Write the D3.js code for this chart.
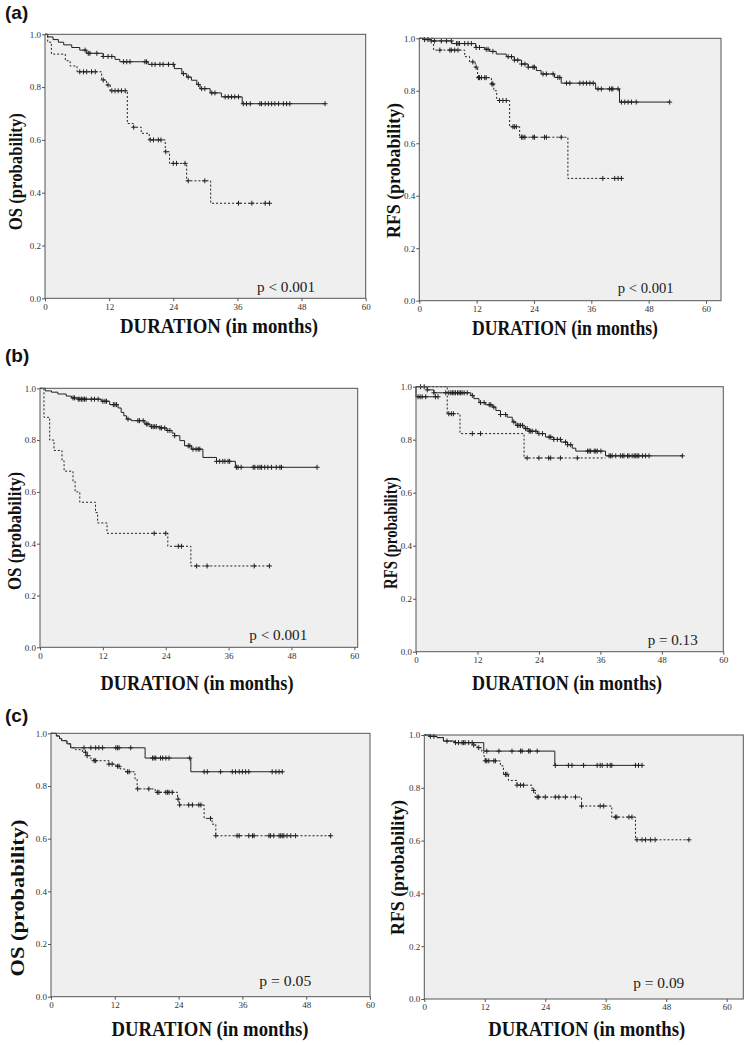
<!DOCTYPE html>
<html><head><meta charset="utf-8">
<script src="https://cdn.jsdelivr.net/npm/d3@7"></script>
<style>body{margin:0;background:#fff}svg{display:block}</style>
</head><body>
<svg id="chart" width="750" height="1045"></svg>
<script>
// ---------- axis ticks & labels ----------
const xTicks = [0, 12, 24, 36, 48, 60];
const yTicks = [0, 0.2, 0.4, 0.6, 0.8, 1.0];
const panelLetters = ["(a)", "(b)", "(c)"];
const xTitle = "DURATION (in months)";
const yTitles = ["OS (probability)", "RFS (probability)", "OS (probability)", "RFS (probability)", "OS (probability)", "RFS (probability)"];
const pTexts = ["p < 0.001", "p < 0.001", "p < 0.001", "p = 0.13", "p = 0.05", "p = 0.09"];

// ---------- (a) OS ----------
const aOsSolidT = [0.5, 1.5, 2.5, 3.5, 5.0, 6.5, 7.8, 10.9, 13.1, 14.0, 19.3, 24.2, 25.6, 26.5, 27.4, 28.4, 29.0, 30.9, 33.0, 36.9];
const aOsSolidS = [0.99, 0.98, 0.97, 0.96, 0.95, 0.94, 0.928, 0.916, 0.905, 0.896, 0.886, 0.87, 0.851, 0.838, 0.826, 0.81, 0.794, 0.778, 0.763, 0.737];
const aOsSolidC = [7.5, 8.1, 8.4, 9.7, 10.9, 11.8, 12.5, 14.7, 15.3, 15.9, 18.7, 19.0, 20.0, 20.6, 21.5, 22.1, 23.1, 24.0, 25.9, 26.8, 28.7, 29.3, 29.9, 31.2, 31.8, 33.7, 34.3, 34.9, 35.5, 36.2, 37.1, 37.7, 38.4, 40.2, 40.5, 41.2, 41.8, 42.4, 43.0, 43.7, 44.6, 45.2, 45.8, 52.4];
const aOsDashT = [0.5, 1.2, 3.8, 4.7, 6.0, 10.6, 11.5, 12.2, 15.4, 16.5, 18.0, 19.5, 22.5, 23.3, 26.5, 31.0];
const aOsDashS = [0.97, 0.925, 0.90, 0.88, 0.858, 0.827, 0.808, 0.786, 0.662, 0.648, 0.625, 0.60, 0.555, 0.511, 0.445, 0.36];
const aOsDashC = [6.5, 7.2, 7.8, 8.7, 9.4, 10.9, 11.8, 12.5, 13.1, 13.7, 14.3, 15.0, 16.6, 19.7, 20.3, 21.2, 21.7, 22.6, 24.0, 24.6, 26.2, 26.8, 29.9, 36.2, 38.7, 41.2, 42.0];

// ---------- (a) RFS ----------
const aRfsSolidT = [1.0, 2.5, 6.8, 11.8, 13.7, 14.7, 16.1, 18.2, 19.9, 21.4, 22.8, 24.5, 25.5, 28.3, 29.7, 36.9, 41.9];
const aRfsSolidS = [0.995, 0.99, 0.98, 0.965, 0.958, 0.95, 0.94, 0.93, 0.917, 0.902, 0.89, 0.877, 0.864, 0.851, 0.829, 0.807, 0.757];
const aRfsSolidC = [1.1, 1.8, 2.5, 3.2, 4.6, 5.7, 6.7, 7.8, 8.1, 8.4, 9.5, 10.2, 10.9, 11.9, 12.6, 14.0, 14.4, 15.4, 18.6, 19.3, 19.9, 20.6, 21.4, 22.1, 22.8, 23.8, 24.1, 25.9, 26.6, 28.0, 29.0, 29.4, 30.8, 31.5, 33.6, 34.3, 35.0, 35.7, 36.4, 37.4, 38.1, 39.8, 40.2, 40.5, 41.6, 42.3, 43.0, 43.7, 44.4, 45.4, 52.4];
const aRfsDashT = [3.0, 9.5, 10.5, 11.7, 12.2, 15.1, 15.6, 16.2, 18.9, 21.0, 31.1];
const aRfsDashS = [0.955, 0.93, 0.91, 0.89, 0.85, 0.826, 0.80, 0.763, 0.663, 0.623, 0.466];
const aRfsDashC = [4.3, 6.4, 6.7, 7.4, 8.1, 11.2, 11.9, 12.4, 12.6, 13.0, 13.7, 14.0, 15.2, 15.4, 16.8, 17.5, 18.2, 19.6, 19.9, 20.3, 21.4, 21.7, 22.1, 23.8, 24.1, 26.2, 26.6, 29.7, 38.4, 40.9, 41.6, 42.3];

// ---------- (b) OS ----------
const bOsSolidT = [1.0, 2.2, 3.4, 5.0, 6.0, 7.3, 11.7, 13.3, 14.9, 15.5, 16.0, 16.5, 17.4, 20.0, 21.0, 22.9, 24.1, 25.2, 25.7, 26.7, 27.6, 28.9, 31.1, 33.7, 37.3];
const bOsSolidS = [0.99, 0.985, 0.978, 0.97, 0.963, 0.958, 0.95, 0.937, 0.924, 0.907, 0.894, 0.881, 0.875, 0.862, 0.852, 0.847, 0.837, 0.827, 0.817, 0.798, 0.778, 0.765, 0.733, 0.718, 0.695];
const bOsSolidC = [6.3, 6.6, 7.3, 7.6, 7.9, 8.2, 8.5, 8.8, 9.8, 10.4, 11.1, 12.0, 12.4, 12.7, 14.0, 14.3, 14.6, 16.8, 18.7, 19.0, 19.7, 20.3, 20.6, 21.3, 21.6, 21.9, 22.2, 22.9, 23.2, 23.8, 24.4, 24.8, 25.7, 28.3, 28.6, 29.2, 29.8, 30.2, 30.5, 33.7, 34.3, 34.9, 35.3, 35.9, 36.2, 37.5, 37.8, 38.4, 40.7, 41.0, 41.6, 42.0, 42.3, 42.9, 43.5, 44.2, 45.1, 45.8, 46.1, 52.9];
const bOsDashT = [0.76, 1.85, 2.67, 4.2, 4.6, 6.3, 6.7, 7.6, 10.6, 11.0, 12.8, 24.4, 28.8];
const bOsDashS = [0.888, 0.80, 0.76, 0.72, 0.68, 0.64, 0.60, 0.56, 0.52, 0.48, 0.44, 0.39, 0.314];
const bOsDashC = [21.8, 24.0, 26.4, 27.0, 29.9, 31.9, 40.9, 43.8];

// ---------- (b) RFS ----------
const bRfsSolidT = [2.2, 3.5, 10.7, 11.3, 12.3, 13.6, 14.9, 15.6, 16.5, 17.8, 18.8, 19.5, 21.1, 22.1, 23.7, 25.3, 26.9, 28.3, 29.6, 30.5, 31.2, 37.0];
const bRfsSolidS = [0.988, 0.977, 0.967, 0.955, 0.94, 0.932, 0.923, 0.91, 0.895, 0.885, 0.867, 0.854, 0.842, 0.832, 0.823, 0.81, 0.801, 0.791, 0.781, 0.768, 0.757, 0.739];
const bRfsSolidC = [0.9, 1.6, 2.2, 3.5, 5.8, 6.4, 6.8, 7.1, 7.4, 7.7, 8.1, 8.4, 8.7, 9.0, 9.4, 10.0, 11.0, 12.6, 13.3, 14.3, 14.6, 15.2, 16.5, 17.5, 19.1, 19.8, 20.1, 20.4, 20.8, 21.4, 21.7, 22.1, 22.4, 22.7, 23.4, 24.0, 24.7, 26.0, 26.3, 26.9, 27.6, 28.2, 29.2, 29.6, 30.2, 33.5, 33.8, 34.1, 34.8, 35.1, 35.4, 36.1, 37.7, 38.0, 38.3, 39.0, 39.9, 40.3, 40.6, 41.3, 41.6, 42.2, 42.6, 42.9, 43.2, 43.5, 44.2, 44.8, 45.5, 52.0];
const bRfsDashT = [6.1, 8.6, 21.1];
const bRfsDashS = [0.898, 0.823, 0.731];
const bRfsDashC = [6.4, 6.9, 7.3, 11.0, 12.6, 21.7, 24.0, 25.9, 26.3, 28.2, 31.5];
const bRfsDashEnd = [37.0];
const bRfsEarlyT = [0.0];
const bRfsEarlyS = [0.962];
const bRfsEarlyC = [0.4, 0.8, 1.2, 1.9, 3.8, 4.3];

// ---------- (c) OS ----------
const cOsSolidT = [1.0, 1.6, 2.0, 3.0, 3.7, 17.7, 26.3];
const cOsSolidS = [0.99, 0.98, 0.972, 0.96, 0.945, 0.906, 0.854];
const cOsSolidC = [6.2, 7.5, 8.4, 9.0, 9.7, 12.2, 12.5, 12.8, 15.0, 19.1, 19.4, 19.7, 20.6, 21.0, 21.6, 22.2, 26.1, 28.8, 29.4, 31.9, 34.1, 34.7, 35.4, 36.0, 36.6, 37.2, 41.6, 42.3, 42.9, 43.5];
const cOsDashT = [1.0, 1.6, 2.0, 3.0, 3.7, 4.6, 5.9, 6.8, 7.5, 8.1, 10.9, 12.2, 13.1, 14.0, 15.8, 16.2, 19.6, 23.8, 24.1, 28.8, 30.3, 31.0];
const cOsDashS = [0.99, 0.98, 0.972, 0.96, 0.945, 0.938, 0.928, 0.915, 0.902, 0.896, 0.883, 0.875, 0.864, 0.854, 0.826, 0.789, 0.776, 0.75, 0.728, 0.677, 0.655, 0.611];
const cOsDashC = [6.5, 6.8, 8.1, 8.4, 10.9, 11.5, 12.5, 12.8, 14.4, 14.7, 16.3, 18.4, 20.0, 20.3, 21.6, 21.9, 22.2, 22.8, 23.9, 24.2, 25.9, 26.6, 27.8, 28.2, 30.0, 31.0, 35.0, 35.4, 37.2, 37.9, 38.2, 41.0, 41.3, 41.9, 42.9, 43.2, 43.5, 43.8, 44.4, 45.1, 46.0, 52.6];

// ---------- (c) RFS ----------
const cRfsSolidT = [1.0, 2.5, 3.8, 6.0, 11.8, 25.9];
const cRfsSolidS = [0.995, 0.99, 0.977, 0.971, 0.939, 0.885];
const cRfsSolidC = [1.2, 1.9, 4.5, 6.2, 6.8, 7.5, 7.8, 8.1, 8.8, 9.5, 12.4, 14.8, 17.4, 19.1, 19.4, 20.7, 21.0, 22.4, 26.0, 28.6, 29.3, 31.6, 34.3, 34.9, 35.3, 36.3, 36.9, 37.2, 41.9, 42.5, 43.2];
const cRfsDashT = [1.0, 2.5, 3.8, 6.0, 9.8, 10.5, 11.4, 11.8, 12.1, 15.1, 15.7, 16.7, 18.4, 21.4, 22.0, 31.2, 37.2, 41.9];
const cRfsDashS = [0.995, 0.99, 0.977, 0.971, 0.962, 0.952, 0.937, 0.92, 0.902, 0.883, 0.851, 0.828, 0.81, 0.79, 0.765, 0.731, 0.689, 0.603];
const cRfsDashC = [9.8, 10.8, 12.1, 12.4, 12.8, 13.8, 14.1, 16.1, 16.4, 18.4, 19.1, 19.7, 21.7, 22.4, 22.7, 24.0, 26.0, 26.7, 28.0, 30.0, 31.2, 34.9, 35.6, 37.9, 38.2, 40.6, 41.2, 42.2, 43.2, 43.9, 44.9, 45.8, 52.5];

// ---------- layout (pixels) ----------
const layouts = [
  {left: 45, top: 34.3, right: 365.7, bottom: 298.3, x60: 365.7,
   xl: [219, 333, 198], yl: [22, 171.7, 117], p: [257, 291.7, 58]},
  {left: 419.3, top: 38.3, right: 721, bottom: 300.7, x60: 706,
   xl: [565, 335, 186], yl: [400, 170.5, 135], p: [617.7, 293.3, 56]},
  {left: 40, top: 388.3, right: 357.7, bottom: 647.3, x60: 354.3,
   xl: [197, 690, 193], yl: [20.5, 531, 118], p: [249.3, 640, 58]},
  {left: 416, top: 386.7, right: 723.3, bottom: 651.7, x60: 723.3,
   xl: [567, 690, 190], yl: [397, 533, 112], p: [647.7, 645, 50]},
  {left: 51, top: 733.3, right: 370, bottom: 996.7, x60: 370,
   xl: [210, 1036, 197], yl: [24, 898, 157], p: [259.3, 986, 52]},
  {left: 424.3, top: 735, right: 743.3, bottom: 999, x60: 726.7,
   xl: [586.7, 1036, 197], yl: [404, 867.5, 135], p: [633.3, 988.3, 51]}
];
const letterPos = [[5, 19], [5, 362], [5, 722]];

const panelCurves = [
  [{T: aOsSolidT, S: aOsSolidS, C: aOsSolidC, dash: false}, {T: aOsDashT, S: aOsDashS, C: aOsDashC, dash: true}],
  [{T: aRfsSolidT, S: aRfsSolidS, C: aRfsSolidC, dash: false}, {T: aRfsDashT, S: aRfsDashS, C: aRfsDashC, dash: true}],
  [{T: bOsSolidT, S: bOsSolidS, C: bOsSolidC, dash: false}, {T: bOsDashT, S: bOsDashS, C: bOsDashC, dash: true}],
  [{T: bRfsSolidT, S: bRfsSolidS, C: bRfsSolidC, dash: false}, {T: bRfsDashT, S: bRfsDashS, C: bRfsDashC, E: bRfsDashEnd, dash: true},
   {T: bRfsEarlyT, S: bRfsEarlyS, C: bRfsEarlyC, dash: false}],
  [{T: cOsSolidT, S: cOsSolidS, C: cOsSolidC, dash: false}, {T: cOsDashT, S: cOsDashS, C: cOsDashC, dash: true}],
  [{T: cRfsSolidT, S: cRfsSolidS, C: cRfsSolidC, dash: false}, {T: cRfsDashT, S: cRfsDashS, C: cRfsDashC, dash: true}]
];

const svg = d3.select("#chart");
const serif = "'Liberation Serif','Times New Roman',serif";

panelLetters.forEach((t, i) => {
  svg.append("text").attr("x", letterPos[i][0]).attr("y", letterPos[i][1])
    .attr("font-family", "'Liberation Sans',Arial,sans-serif").attr("font-weight", "bold")
    .attr("font-size", 19).attr("fill", "#111").text(t);
});

function survAt(c, t) {
  let s = 1;
  for (let i = 0; i < c.T.length; i++) if (c.T[i] <= t) s = c.S[i];
  return s;
}

layouts.forEach((L, i) => {
  const xMax = 60 * (L.right - L.left) / (L.x60 - L.left);
  const x = d3.scaleLinear().domain([0, xMax]).range([L.left, L.right]);
  const y = d3.scaleLinear().domain([0, 1]).range([L.bottom, L.top]);
  const g = svg.append("g");

  g.append("rect").attr("x", L.left).attr("y", L.top)
    .attr("width", L.right - L.left).attr("height", L.bottom - L.top)
    .attr("fill", "#efefef");

  const xa = g.append("g").attr("transform", `translate(0,${L.bottom})`)
    .call(d3.axisBottom(x).tickValues(xTicks).tickSize(3).tickPadding(2).tickFormat(d3.format("d")));
  const ya = g.append("g").attr("transform", `translate(${L.left},0)`)
    .call(d3.axisLeft(y).tickValues(yTicks).tickSize(3).tickPadding(1).tickFormat(d3.format(".1f")));
  [xa, ya].forEach(a => {
    a.select(".domain").remove();
    a.selectAll("line").attr("stroke", "#555");
    a.selectAll("text").attr("font-family", serif).attr("font-size", 9).attr("fill", "#333");
  });

  const line = d3.line().curve(d3.curveStepAfter).x(d => x(d[0])).y(d => y(d[1]));
  panelCurves[i].forEach(c => {
    const lastC = c.C.length ? c.C[c.C.length - 1] : 0;
    const end = Math.max(lastC, c.T[c.T.length - 1], c.E ? c.E[0] : 0);
    const pts = [[0, 1]].concat(c.T.map((t, k) => [t, c.S[k]]));
    pts.push([end, c.S[c.S.length - 1]]);
    g.append("path").attr("d", line(pts)).attr("fill", "none")
      .attr("stroke", "#222").attr("stroke-width", 1)
      .attr("stroke-dasharray", c.dash ? "2,2" : null);
    const cg = g.append("g").attr("stroke", "#222").attr("stroke-width", 1);
    c.C.forEach(t => {
      const cx = x(t), cy = y(survAt(c, t));
      cg.append("line").attr("x1", cx - 2.5).attr("x2", cx + 2.5).attr("y1", cy).attr("y2", cy);
      cg.append("line").attr("x1", cx).attr("x2", cx).attr("y1", cy - 2.5).attr("y2", cy + 2.5);
    });
  });

  g.append("rect").attr("x", L.left).attr("y", L.top)
    .attr("width", L.right - L.left).attr("height", L.bottom - L.top)
    .attr("fill", "none").attr("stroke", "#555").attr("stroke-width", 1);

  g.append("text").attr("x", L.xl[0]).attr("y", L.xl[1]).attr("text-anchor", "middle")
    .attr("font-family", serif).attr("font-weight", "bold").attr("font-size", 20)
    .attr("textLength", L.xl[2]).attr("lengthAdjust", "spacingAndGlyphs")
    .attr("fill", "#111").text(xTitle);

  g.append("text").attr("transform", `translate(${L.yl[0]},${L.yl[1]}) rotate(-90)`)
    .attr("text-anchor", "middle")
    .attr("font-family", serif).attr("font-weight", "bold").attr("font-size", 19)
    .attr("textLength", L.yl[2]).attr("lengthAdjust", "spacingAndGlyphs")
    .attr("fill", "#111").text(yTitles[i]);

  g.append("text").attr("x", L.p[0]).attr("y", L.p[1])
    .attr("font-family", serif).attr("font-size", 14)
    .attr("textLength", L.p[2]).attr("lengthAdjust", "spacingAndGlyphs")
    .attr("fill", "#222").text(pTexts[i]);
});
</script>
</body></html>
